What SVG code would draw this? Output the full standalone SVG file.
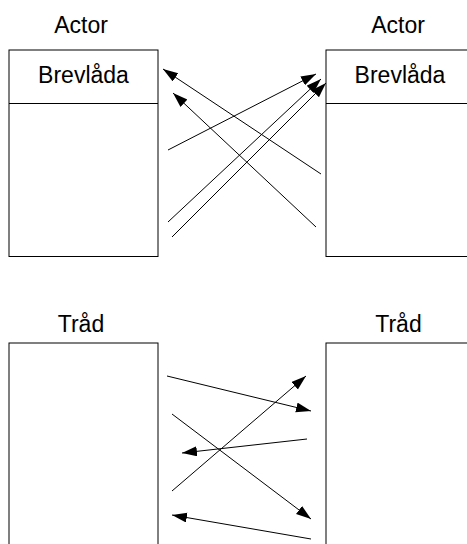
<svg xmlns="http://www.w3.org/2000/svg" width="467" height="544" viewBox="0 0 467 544">
  <style>
    .box { fill: #ffffff; stroke: #000000; stroke-width: 1; }
    .lbl { font-family: "Liberation Sans", Arial, Helvetica, sans-serif; font-size: 23px; fill: #000000; text-anchor: middle; }
    .msg { stroke: #000000; stroke-width: 1; fill: none; marker-end: url(#head); }
  </style>
  <defs>
    <marker id="head" markerUnits="userSpaceOnUse" markerWidth="16" markerHeight="11" refX="15" refY="5" orient="auto">
      <path d="M0,0 L15,5 L0,10 z" fill="#000000"/>
    </marker>
  </defs>

  <!-- actor with mailbox, left -->
  <g id="actor-left">
    <text class="lbl" x="81" y="33">Actor</text>
    <rect class="box" x="9" y="50" width="149" height="206.5"/>
    <line x1="9" y1="103.5" x2="158" y2="103.5" stroke="#000" stroke-width="1"/>
    <text class="lbl" x="83.5" y="83">Brevlåda</text>
  </g>

  <!-- actor with mailbox, right -->
  <g id="actor-right">
    <text class="lbl" x="398" y="33">Actor</text>
    <rect class="box" x="326" y="50" width="160" height="206.5"/>
    <line x1="326" y1="103.5" x2="470" y2="103.5" stroke="#000" stroke-width="1"/>
    <text class="lbl" x="400" y="83">Brevlåda</text>
  </g>

  <!-- thread, left -->
  <g id="thread-left">
    <text class="lbl" x="81" y="332">Tråd</text>
    <rect class="box" x="9" y="343" width="149" height="220"/>
  </g>

  <!-- thread, right -->
  <g id="thread-right">
    <text class="lbl" x="398.5" y="332">Tråd</text>
    <rect class="box" x="326" y="343" width="160" height="220"/>
  </g>

  <!-- messages -->
  <g id="connectors">
    <line class="msg" x1="321" y1="174" x2="163" y2="69"/>
    <line class="msg" x1="316" y1="227" x2="173" y2="93"/>
    <line class="msg" x1="168" y1="150" x2="316" y2="74"/>
    <line class="msg" x1="168" y1="222" x2="321" y2="79"/>
    <line class="msg" x1="172" y1="237" x2="326" y2="83"/>

    <line class="msg" x1="167" y1="376" x2="311" y2="411"/>
    <line class="msg" x1="172" y1="491" x2="306" y2="376"/>
    <line class="msg" x1="307" y1="439" x2="182" y2="453"/>
    <line class="msg" x1="172" y1="414" x2="311" y2="519"/>
    <line class="msg" x1="311" y1="539" x2="172" y2="515"/>
  </g>
</svg>
